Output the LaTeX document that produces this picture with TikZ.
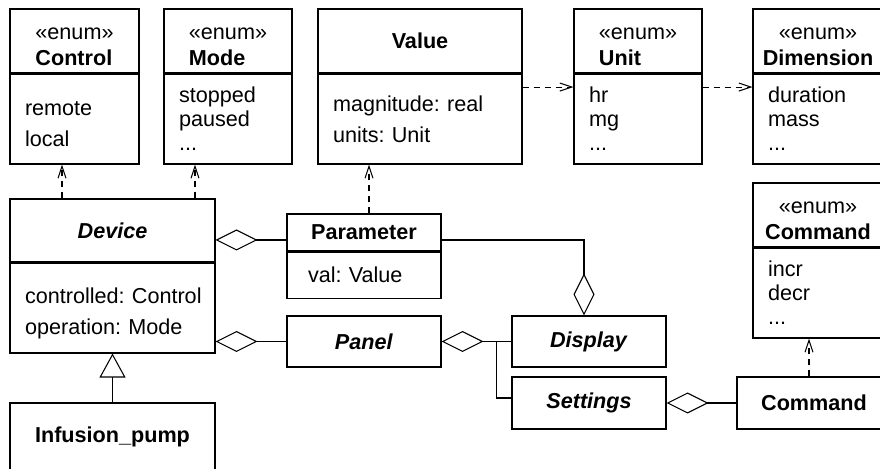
\documentclass[tikz,border=0pt]{standalone}
\usepackage{fontspec}
\setmainfont{Liberation Sans}
\usetikzlibrary{arrows.meta,positioning}

% stereotype header: centred <<enum>> over a left-set class name
\newcommand{\enumhd}[1]{\begin{tabular}{@{}l@{}}\multicolumn{1}{@{}c@{}}{\rule{0pt}{17.6pt}«enum»}\\[1pt]\textbf{#1}\end{tabular}}

\begin{document}
\begin{tikzpicture}[x=0.02cm, y=-0.02cm, line width=0.6pt,
  font=\fontsize{12.3pt}{13.7pt}\selectfont\frenchspacing,
  hd/.style={draw, inner sep=0pt},
  bd/.style={draw, inner xsep=0.3cm, inner ysep=0pt, align=left},
  dep/.style={dash pattern=on 0.12cm off 0.1cm, -{Straight Barb[length=0.24cm, width=0.16cm]}},
  agg/.style={{Diamond[open, length=0.84cm, width=0.42cm]}-},
  inh/.style={-{Triangle[open, length=0.48cm, width=0.52cm]}}
]
\useasboundingbox (0,0) rectangle (880,469);
\clip (0,0) rectangle (880,469);

% enumerations and value types
\node[hd, minimum width=2.58cm, minimum height=1.28cm] (ctrlH) at (74.5,41) {\enumhd{Control}};
\node[bd, below=0pt of ctrlH, text width=1.98cm, minimum height=1.8cm] (ctrl) {\rule{0pt}{14pt}remote\\[4pt]local};
\node[hd, minimum width=2.56cm, minimum height=1.28cm] (modeH) at (228,41) {\enumhd{Mode}};
\node[bd, below=0pt of modeH, text width=1.96cm, minimum height=1.8cm] (mode) {stopped\\paused\\...};
\node[hd, minimum width=4.08cm, minimum height=1.28cm] (valH) at (420,41) {\textbf{Value}};
\node[bd, below=0pt of valH, text width=3.48cm, minimum height=1.8cm] (val) {magnitude: real\\[4pt]units: Unit};
\node[hd, minimum width=2.56cm, minimum height=1.28cm] (unitH) at (638,41) {\enumhd{Unit}};
\node[bd, below=0pt of unitH, text width=1.96cm, minimum height=1.8cm] (unit) {hr\\mg\\...};
\node[hd, minimum width=2.6cm, minimum height=1.28cm] (dimH) at (818,41) {\enumhd{Dimension}};
\node[bd, below=0pt of dimH, text width=2.0cm, minimum height=1.8cm] (dim) {duration\\mass\\...};
\node[hd, minimum width=2.6cm, minimum height=1.28cm] (cmdEH) at (818,215) {\enumhd{Command}};
\node[bd, below=0pt of cmdEH, text width=2.0cm, minimum height=1.8cm] (cmdE) {incr\\decr\\...};

% device side
\node[hd, minimum width=4.1cm, minimum height=1.26cm] (devH) at (112.5,230.5) {\textbf{\textit{Device}}};
\node[bd, below=0pt of devH, text width=3.5cm, minimum height=1.8cm] (dev) {\rule{0pt}{15pt}\mbox{controlled: Control}\\[4pt]\mbox{operation: Mode}};
\node[hd, minimum width=4.1cm, minimum height=1.36cm] (pump) at (112.5,437) {\textbf{Infusion\_pump}};
\node[hd, minimum width=3.08cm, minimum height=0.74cm] (parH) at (364,232.5) {\textbf{Parameter}};
\node[bd, below=0pt of parH, inner xsep=0.42cm, text width=2.24cm, minimum height=0.92cm] (par) {val: Value};
\node[hd, minimum width=3.08cm, minimum height=1.02cm] (panel) at (364,341.5) {\textbf{\textit{Panel}}};
\node[hd, minimum width=3.08cm, minimum height=1.02cm] (disp) at (589,341.5) {\textbf{\textit{Display}}};
\node[hd, minimum width=3.08cm, minimum height=1.04cm] (sett) at (589,403) {\textbf{\textit{Settings}}};
\node[hd, minimum width=3.08cm, minimum height=1.04cm] (cmd) at (814,403) {\textbf{Command}};

% dependencies
\draw[dep] ([xshift=-1.01cm]devH.north) -- ([xshift=-1.01cm]devH.north |- ctrl.south);
\draw[dep] ([xshift=1.65cm]devH.north) -- ([xshift=1.65cm]devH.north |- mode.south);
\draw[dep] ([xshift=0.1cm]parH.north) -- ([xshift=0.1cm]parH.north |- val.south);
\draw[dep] ([yshift=0.64cm]val.east) -- ([yshift=0.64cm]val.east -| unit.west);
\draw[dep] ([yshift=0.64cm]unit.east) -- ([yshift=0.64cm]unit.east -| dim.west);
\draw[dep] ([xshift=-0.1cm]cmd.north) -- ([xshift=-0.1cm]cmd.north |- cmdE.south);

% aggregations
\draw[agg] ([yshift=-0.19cm]devH.east) -- ([yshift=-0.19cm]devH.east -| parH.west);
\draw[agg] (dev.east |- panel.west) -- (panel.west);
\draw[agg] (panel.east) -- (disp.west);
\draw ([xshift=-0.3cm]disp.west) |- ([yshift=0.1cm]sett.west);
\draw[agg] ([xshift=-0.1cm]disp.north) |- ([yshift=-0.15cm]parH.east);
\draw[agg] (sett.east) -- (cmd.west);

% generalisation
\draw[inh] (pump.north) -- (dev.south);
\end{tikzpicture}
\end{document}
